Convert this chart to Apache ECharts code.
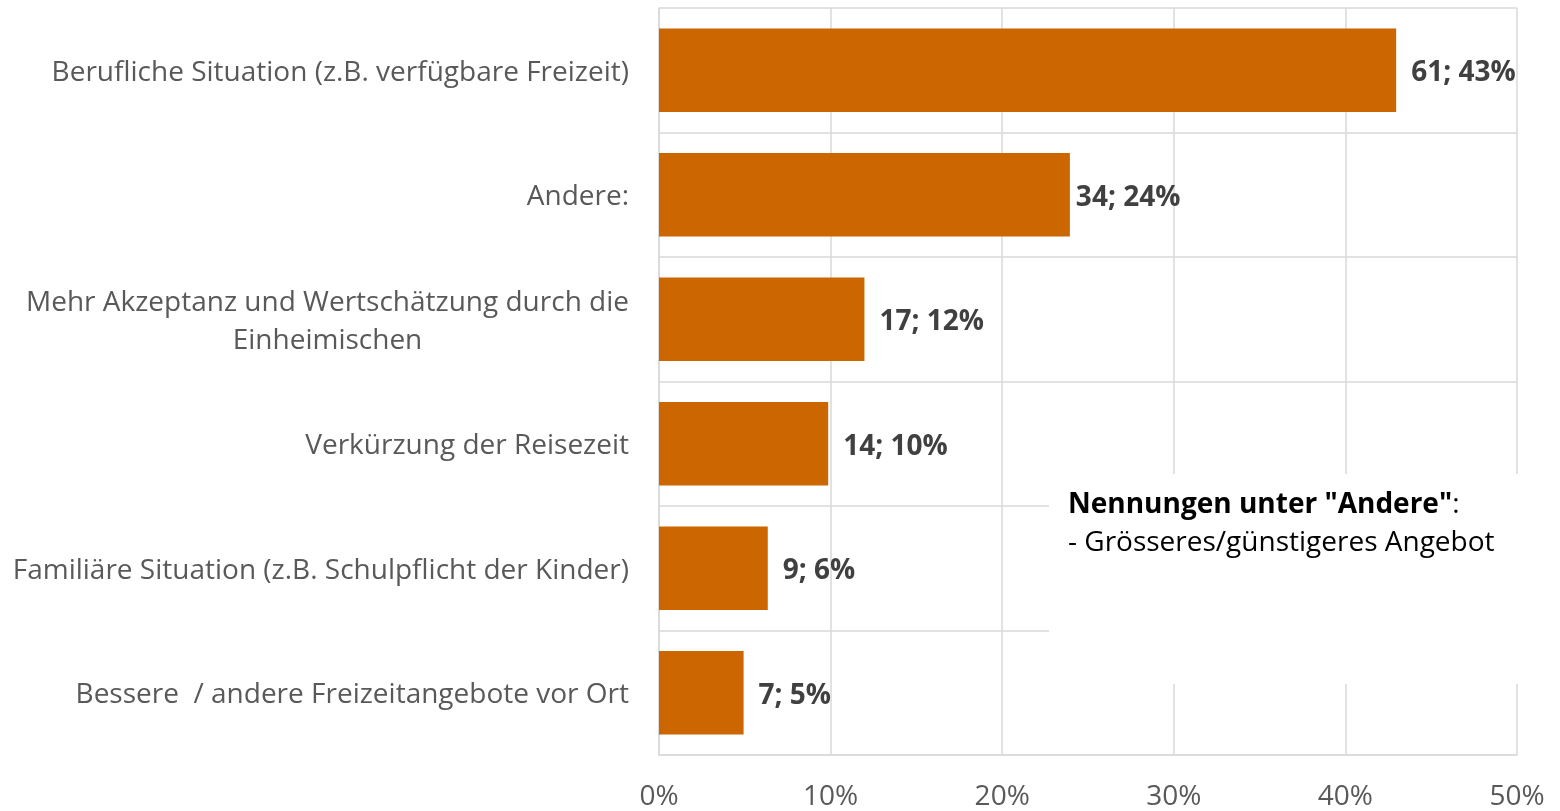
<!DOCTYPE html>
<html>
<head>
<meta charset="utf-8">
<script src="https://cdn.jsdelivr.net/npm/echarts@6/dist/echarts.min.js"></script>
<style>
  html, body { margin: 0; padding: 0; background: #fff; }
  #main { width: 1560px; height: 811px; }
</style>
</head>
<body>
<div id="main"></div>
<script>
var categories = [
  'Berufliche Situation (z.B. verfügbare Freizeit)',
  'Andere:',
  'Mehr Akzeptanz und Wertschätzung durch die\nEinheimischen',
  'Verkürzung der Reisezeit',
  'Familiäre Situation (z.B. Schulpflicht der Kinder)',
  'Bessere  / andere Freizeitangebote vor Ort'
];
var counts = [61, 34, 17, 14, 9, 7];
var total = 142;
var percents = counts.map(function (c) { return c / total * 100; });
var tickLabels = ['0%', '10%', '20%', '30%', '40%', '50%'];

var font = 'Open Sans';
var fs = 28;
var chart = echarts.init(document.getElementById('main'));

// the "Andere" label sits closer to its bar in the original
var barData = percents.map(function (v, i) {
  return i === 1 ? { value: v, label: { distance: 6 } } : v;
});

var option = {
  animation: false,
  grid: { left: 659, right: 43, top: 8, bottom: 55, containLabel: false },
  xAxis: {
    type: 'value',
    min: 0,
    max: 50,
    interval: 10,
    axisLine: { show: true, lineStyle: { color: '#d9d9d9', width: 1.5 } },
    axisTick: { show: false },
    splitLine: { show: true, lineStyle: { color: '#d9d9d9', width: 1.5 } },
    axisLabel: {
      margin: 28,
      fontFamily: font,
      fontSize: fs,
      color: '#595959',
      formatter: function (v) { return tickLabels[v / 10]; }
    }
  },
  yAxis: {
    type: 'category',
    inverse: true,
    data: categories,
    axisLine: { show: true, lineStyle: { color: '#d9d9d9', width: 1.5 } },
    axisTick: { show: false },
    splitLine: { show: true, lineStyle: { color: '#d9d9d9', width: 1.5 } },
    axisLabel: {
      margin: 30,
      padding: [5, 0, 0, 0],
      fontFamily: font,
      fontSize: fs,
      color: '#595959',
      lineHeight: 38,
      formatter: function (v) {
        return v.split('\n').map(function (s) { return '{c|' + s + '}'; }).join('\n');
      },
      rich: {
        c: { align: 'center', fontFamily: font, fontSize: fs, color: '#595959', lineHeight: 38 }
      }
    }
  },
  series: [{
    type: 'bar',
    data: barData,
    barCategoryGap: '33%',
    itemStyle: { color: '#cc6600' },
    label: {
      show: true,
      position: 'right',
      distance: 15,
      offset: [0, 3],
      fontFamily: font,
      fontSize: fs,
      fontWeight: 'bold',
      color: '#404040',
      formatter: function (p) {
        return counts[p.dataIndex] + '; ' + Math.round(p.value) + '%';
      }
    }
  }],
  graphic: [
    {
      type: 'rect',
      shape: { x: 1049, y: 474, width: 480, height: 210 },
      style: { fill: '#fff' },
      z: 10
    },
    {
      type: 'text',
      x: 1068,
      y: 486,
      z: 11,
      style: {
        text: '{b|Nennungen unter "Andere"}{r|:}\n{r|- Grösseres/günstigeres Angebot}',
        rich: {
          b: { fontFamily: font, fontSize: fs, fontWeight: 'bold', fill: '#000', lineHeight: 38 },
          r: { fontFamily: font, fontSize: fs, fill: '#000', lineHeight: 38 }
        }
      }
    }
  ]
};
chart.setOption(option);
</script>
</body>
</html>
